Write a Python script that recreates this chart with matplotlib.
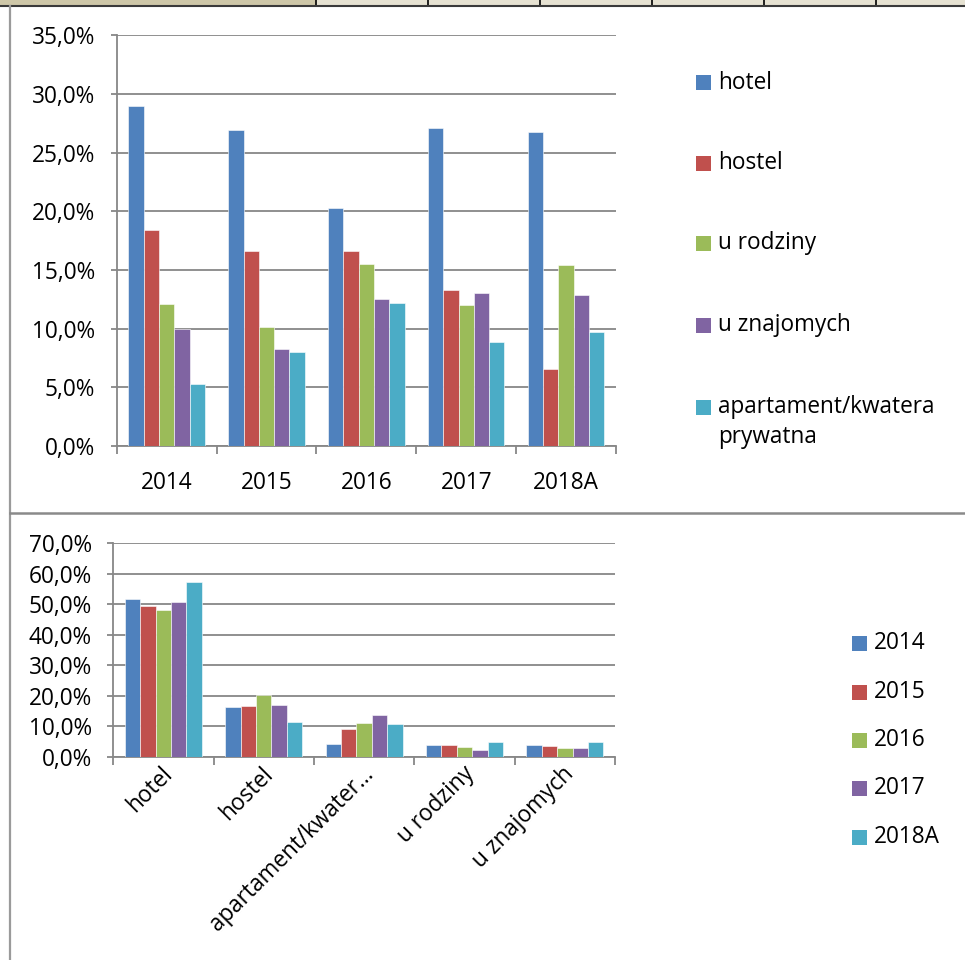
import matplotlib
matplotlib.use("Agg")
import matplotlib.pyplot as plt
from matplotlib.patches import Rectangle
from matplotlib.lines import Line2D
from matplotlib.ticker import FuncFormatter
from matplotlib.transforms import ScaledTranslation

# ---------------- data ----------------
years = ["2014", "2015", "2016", "2017", "2018A"]
top_series = ["hotel", "hostel", "u rodziny", "u znajomych", "apartament/kwatera\nprywatna"]
top_hotel = [29.0, 26.9, 20.3, 27.1, 26.8]
top_hostel = [18.4, 16.6, 16.6, 13.3, 6.6]
top_rodziny = [12.1, 10.1, 15.5, 12.0, 15.4]
top_znajomych = [10.0, 8.3, 12.5, 13.0, 12.9]
top_apartament = [5.3, 8.0, 12.2, 8.9, 9.7]
top_values = [top_hotel, top_hostel, top_rodziny, top_znajomych, top_apartament]

bottom_categories = ["hotel", "hostel", "apartament/kwater…", "u rodziny", "u znajomych"]
bot_2014 = [51.7, 16.2, 4.3, 3.8, 4.0]
bot_2015 = [49.4, 16.5, 9.0, 4.0, 3.5]
bot_2016 = [48.2, 20.2, 10.9, 3.3, 3.0]
bot_2017 = [50.8, 17.0, 13.6, 2.1, 2.7]
bot_2018A = [57.2, 11.3, 10.6, 4.8, 4.7]
bot_values = [bot_2014, bot_2015, bot_2016, bot_2017, bot_2018A]

top_yticks = [0, 5, 10, 15, 20, 25, 30, 35]
bot_yticks = [0, 10, 20, 30, 40, 50, 60, 70]

colors = ["#4F81BD", "#C0504D", "#9BBB59", "#8064A2", "#4BACC6"]

# ---------------- style ----------------
plt.rcParams['font.family'] = ['Open Sans', 'DejaVu Sans']
FS = 16.3
GRID = "#878787"
W, H = 965, 960

fig = plt.figure(figsize=(W / 100, H / 100), dpi=100)


def fx(x):
    return x / W


def fy(y):
    return 1 - y / H


def rect_axes(l, t, r, b):
    return fig.add_axes([fx(l), fy(b), fx(r) - fx(l), fy(t) - fy(b)])


pct = FuncFormatter(lambda v, p: ("%.1f%%" % v).replace(".", ","))


def style_axes(ax, ncat, yticks, labels, rot):
    ax.set_xlim(-0.5, ncat - 0.5)
    ax.set_ylim(yticks[0], yticks[-1])
    ax.set_yticks(yticks)
    ax.yaxis.set_major_formatter(pct)
    ax.set_axisbelow(True)
    ax.yaxis.grid(True, color=GRID, lw=1.3)
    for s in ["top", "right"]:
        ax.spines[s].set_visible(False)
    for s in ["left", "bottom"]:
        ax.spines[s].set_color(GRID)
        ax.spines[s].set_linewidth(1.3)
    ax.set_xticks([i - 0.5 for i in range(ncat + 1)])
    ax.set_xticklabels([])
    ax.set_xticks(range(ncat), minor=True)
    ax.tick_params(axis="x", which="major", direction="out", length=5.5,
                   width=1.3, color=GRID)
    ax.tick_params(axis="y", which="major", direction="out", length=4.5,
                   width=1.3, color=GRID, labelsize=FS, pad=11)
    if rot:
        ax.set_xticklabels(labels, minor=True, rotation=45, ha="right",
                           va="center", rotation_mode="anchor", fontsize=FS)
        ax.tick_params(axis="x", which="minor", length=0, pad=10)
        off = ScaledTranslation(6 / 100, 0, fig.dpi_scale_trans)
        for lab in ax.get_xticklabels(minor=True):
            lab.set_transform(lab.get_transform() + off)
    else:
        ax.set_xticklabels(labels, minor=True, fontsize=FS)
        ax.tick_params(axis="x", which="minor", length=0, pad=18)


def grouped_bars(ax, values):
    n = len(values)
    bw = 0.153
    for i, vals in enumerate(values):
        xs = [j + (i - (n - 1) / 2) * bw for j in range(len(vals))]
        ax.bar(xs, vals, width=bw, color=colors[i], edgecolor="#ffffff",
               linewidth=0.4, zorder=3)


# ---------------- table frame ----------------
fig.add_artist(Rectangle((0, fy(5)), fx(316), fy(0) - fy(5),
                         transform=fig.transFigure, facecolor="#CEC7A8",
                         edgecolor="none"))
fig.add_artist(Rectangle((fx(316), fy(5)), 1 - fx(316), fy(0) - fy(5),
                         transform=fig.transFigure, facecolor="#E6E2D2",
                         edgecolor="none"))
for xd in [316, 428, 540, 652, 764, 876]:
    fig.add_artist(Line2D([fx(xd), fx(xd)], [fy(0), fy(5)],
                          transform=fig.transFigure, color="black", lw=1.2))
fig.add_artist(Line2D([0, 1], [fy(5.5), fy(5.5)], transform=fig.transFigure,
                      color="#3a3a3a", lw=1.5))
fig.add_artist(Line2D([fx(9.5), fx(9.5)], [fy(6), 0], transform=fig.transFigure,
                      color="#9a9a9a", lw=1.6))
fig.add_artist(Line2D([fx(9.5), 1], [fy(513), fy(513)], transform=fig.transFigure,
                      color="#8a8a8a", lw=1.8))

# ---------------- top chart ----------------
ax1 = rect_axes(116.7, 35.3, 616, 446)
grouped_bars(ax1, top_values)
style_axes(ax1, len(years), top_yticks, years, rot=False)

leg_y = [82.7, 163, 243, 325, 407]
for i, name in enumerate(top_series):
    yc = leg_y[i]
    fig.add_artist(Rectangle((fx(696), fy(yc + 7.5)), fx(15), fy(0) - fy(15),
                             transform=fig.transFigure, facecolor=colors[i],
                             edgecolor="none"))
    for k, line in enumerate(name.split("\n")):
        fig.text(fx(718), fy(yc + 30 * k), line, fontsize=FS, va="center",
                 ha="left")

# ---------------- bottom chart ----------------
ax2 = rect_axes(113.3, 543.3, 615, 756.7)
grouped_bars(ax2, bot_values)
style_axes(ax2, len(bottom_categories), bot_yticks, bottom_categories, rot=True)

leg2_y = [643, 692, 740, 788, 837]
for i, name in enumerate(years):
    yc = leg2_y[i]
    fig.add_artist(Rectangle((fx(852), fy(yc + 7.5)), fx(15), fy(0) - fy(15),
                             transform=fig.transFigure, facecolor=colors[i],
                             edgecolor="none"))
    fig.text(fx(874), fy(yc), name, fontsize=FS, va="center", ha="left")

fig.savefig("out.png", dpi=100)
